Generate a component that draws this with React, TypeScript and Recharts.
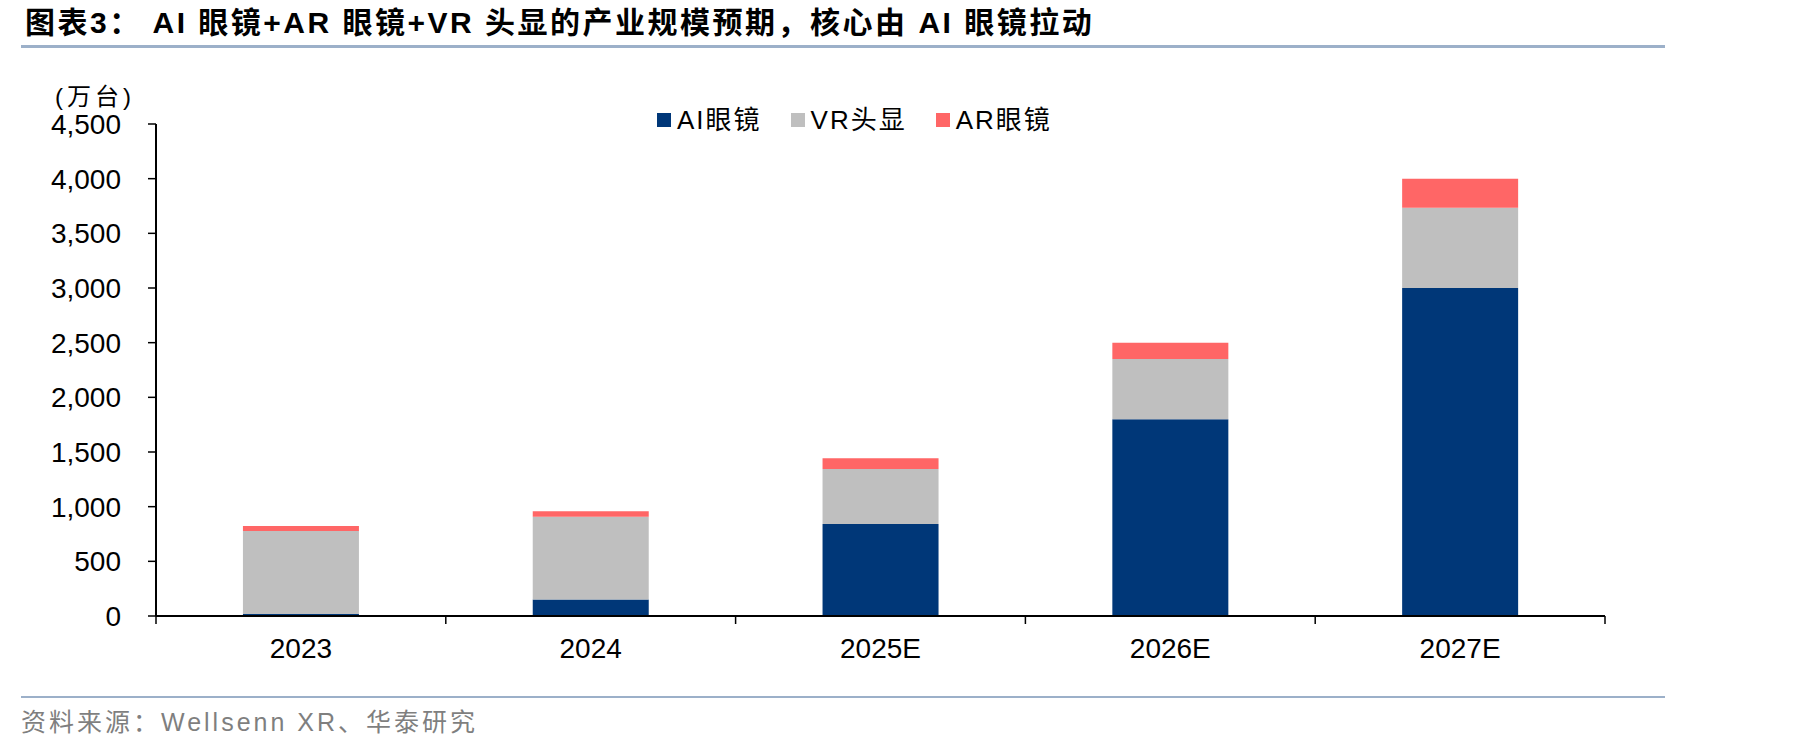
import { Bar, BarChart, Legend, XAxis, YAxis } from 'recharts';

const categories = ['2023', '2024', '2025E', '2026E', '2027E'];
const aiGlasses = [18, 150, 842, 1800, 3000];
const vrHeadsets = [760, 757, 503, 550, 735];
const arGlasses = [46, 52, 97, 150, 265];
const yTicks = [0, 500, 1000, 1500, 2000, 2500, 3000, 3500, 4000, 4500];

const seriesNames = { ai: 'AI眼镜', vr: 'VR头显', ar: 'AR眼镜' };
const legendOrder = ['ai', 'vr', 'ar'];
const colors = { ai: '#003778', vr: '#BFBFBF', ar: '#FF6666' };

const data = categories.map((year, i) => ({
  year,
  ai: aiGlasses[i],
  vr: vrHeadsets[i],
  ar: arGlasses[i],
}));

const LATIN = '"Liberation Sans", Arial, "Noto Sans CJK SC", sans-serif';
const TICK_SIZE = 8;
const TICK_MARGIN = 2;

function CategoryTick(props: any) {
  const { x, y, payload, index, visibleTicksCount, width } = props;
  const half = payload && typeof payload.offset === 'number' && payload.offset > 0
    ? payload.offset
    : width / visibleTicksCount / 2;
  const axisY = y - TICK_SIZE - TICK_MARGIN;
  return (
    <g>
      <line x1={x - half} x2={x - half} y1={axisY} y2={axisY + TICK_SIZE} stroke="#000" strokeWidth={1.5} />
      {index === visibleTicksCount - 1 && (
        <line x1={x + half} x2={x + half} y1={axisY} y2={axisY + TICK_SIZE} stroke="#000" strokeWidth={1.5} />
      )}
      <text x={x} y={y + 32} textAnchor="middle" fill="#000" fontSize={28} fontFamily={LATIN}>
        {payload.value}
      </text>
    </g>
  );
}

function LegendContent({ payload }: any) {
  const items = [...(payload || [])].sort(
    (a: any, b: any) => legendOrder.indexOf(a.dataKey) - legendOrder.indexOf(b.dataKey),
  );
  return (
    <div style={{ display: 'flex', alignItems: 'center' }}>
      {items.map((p: any) => (
        <div key={p.value} style={{ display: 'flex', alignItems: 'center', marginRight: 29 }}>
          <span style={{ width: 14, height: 14, background: p.color, marginRight: 6, display: 'inline-block' }} />
          <span style={{ fontSize: 26, letterSpacing: 2, lineHeight: '32px', fontFamily: LATIN, color: '#000' }}>{p.value}</span>
        </div>
      ))}
    </div>
  );
}

export default function App() {
  return (
    <div style={{ position: 'absolute', left: 0, top: 0, width: 1819, height: 751, background: '#fff', overflow: 'hidden' }}>
      <div
        style={{
          position: 'absolute',
          left: 25,
          top: 5,
          fontSize: 30,
          lineHeight: '36px',
          fontWeight: 'bold',
          letterSpacing: 2.5,
          whiteSpace: 'nowrap',
          fontFamily: LATIN,
          color: '#000',
        }}
      >
        图表3： AI 眼镜+AR 眼镜+VR 头显的产业规模预期，核心由 AI 眼镜拉动
      </div>
      <div style={{ position: 'absolute', left: 21, top: 45, width: 1644, height: 3, background: '#9CB0C9' }} />

      <div style={{ position: 'absolute', left: 55, top: 82, fontSize: 24, lineHeight: '30px', letterSpacing: 4, fontFamily: LATIN, color: '#000' }}>
        (万台)
      </div>

      <div style={{ position: 'absolute', left: 0, top: 0 }}>
        <BarChart
          width={1819}
          height={751}
          data={data}
          margin={{ top: 124, right: 214, bottom: 75, left: 0 }}
          barCategoryGap="30%"
        >
          <XAxis
            dataKey="year"
            height={60}
            axisLine={{ stroke: '#000', strokeWidth: 2 }}
            tickLine={false}
            tickSize={TICK_SIZE}
            tickMargin={TICK_MARGIN}
            tick={<CategoryTick />}
            interval={0}
          />
          <YAxis
            width={156}
            domain={[0, 4500]}
            ticks={yTicks}
            interval={0}
            axisLine={{ stroke: '#000', strokeWidth: 2 }}
            tickLine={{ stroke: '#000', strokeWidth: 1.5 }}
            tickSize={TICK_SIZE}
            tickMargin={27}
            tick={{ fill: '#000', fontSize: 28, fontFamily: LATIN }}
            tickFormatter={(v: number) => v.toLocaleString('en-US')}
          />
          <Legend
            layout="horizontal"
            verticalAlign="middle"
            align="center"
            wrapperStyle={{ left: 657, top: 104, width: 480, height: 32 }}
            content={<LegendContent />}
          />
          <Bar dataKey="ai" name={seriesNames.ai} stackId="a" fill={colors.ai} isAnimationActive={false} />
          <Bar dataKey="vr" name={seriesNames.vr} stackId="a" fill={colors.vr} isAnimationActive={false} />
          <Bar dataKey="ar" name={seriesNames.ar} stackId="a" fill={colors.ar} isAnimationActive={false} />
        </BarChart>
      </div>

      <div style={{ position: 'absolute', left: 21, top: 696, width: 1644, height: 2, background: '#9CB0C9' }} />
      <div style={{ position: 'absolute', left: 21, top: 707, fontSize: 25, lineHeight: '30px', letterSpacing: 3, fontFamily: LATIN, color: '#7F7F7F', whiteSpace: 'nowrap' }}>
        资料来源：Wellsenn XR、华泰研究
      </div>
    </div>
  );
}
